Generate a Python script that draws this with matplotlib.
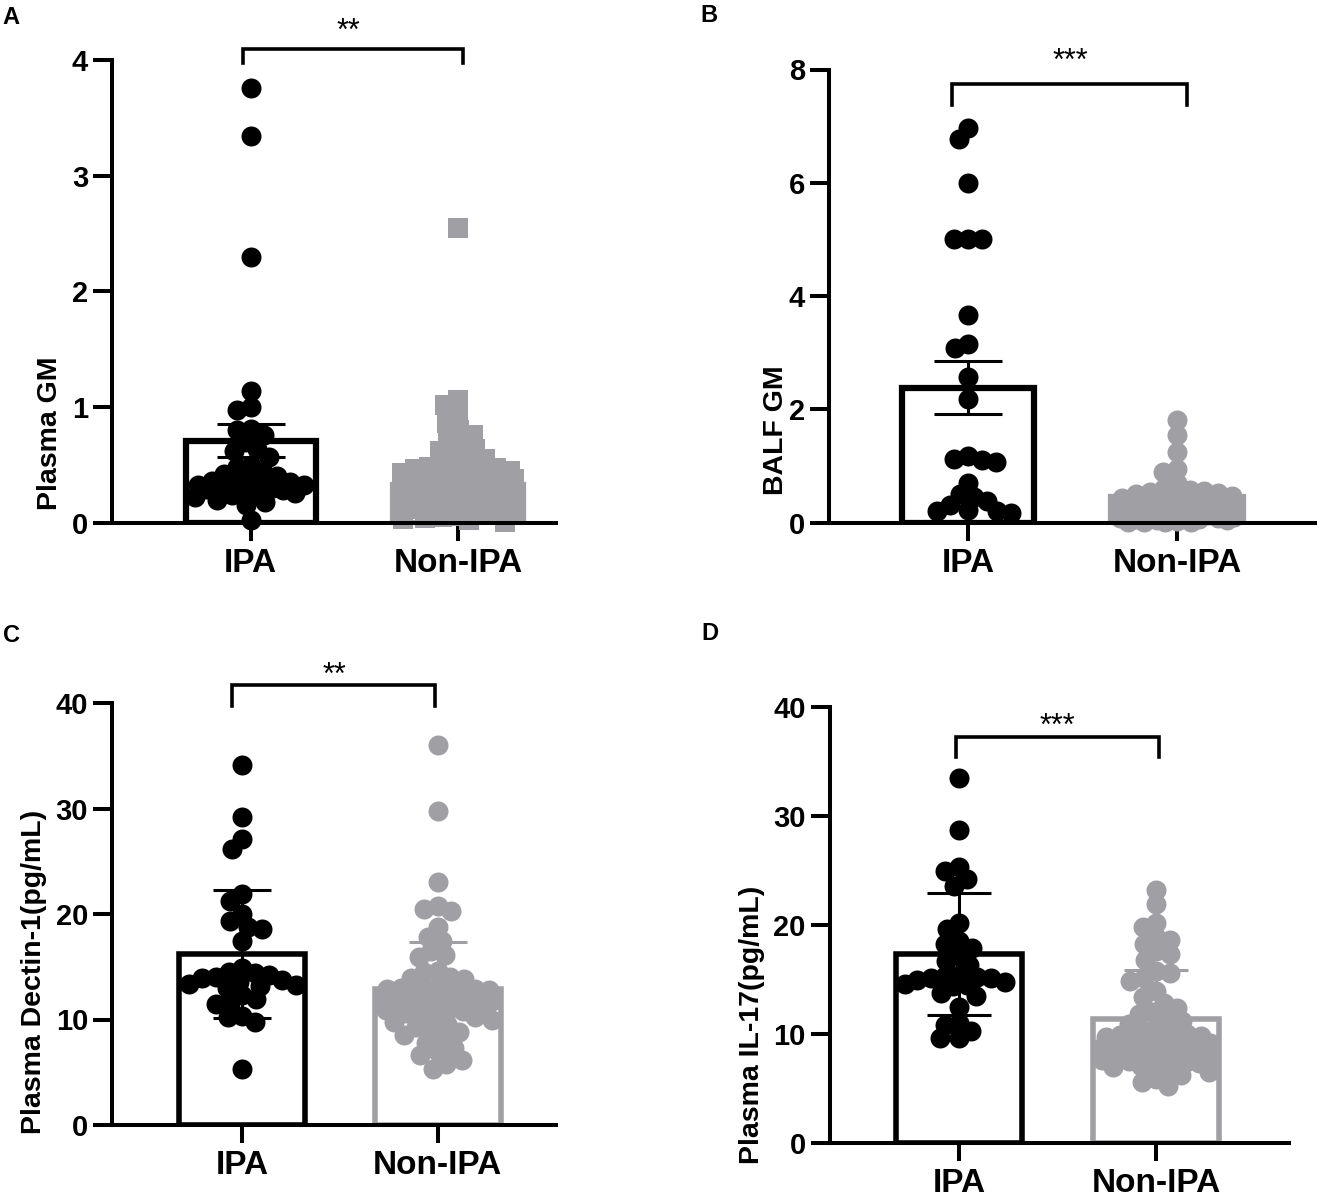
import matplotlib
matplotlib.use("Agg")
import matplotlib.pyplot as plt
import numpy as np

plt.rcParams["font.family"] = ["Liberation Sans", "DejaVu Sans"]
plt.rcParams["font.weight"] = "bold"

W, H = 1317, 1192
BLACK = "#000000"
GRAY = "#A0A0A4"
groups = ["IPA", "Non-IPA"]

# ---- data ----
a_ipa = [3.76, 3.34, 2.30, 1.14, 1.00, 0.97, 0.81, 0.80, 0.76, 0.70, 0.64, 0.62,
         0.57, 0.50, 0.48, 0.44, 0.42, 0.40, 0.38, 0.36, 0.35, 0.34, 0.33, 0.33,
         0.32, 0.31, 0.30, 0.30, 0.29, 0.28, 0.26, 0.25, 0.24, 0.22, 0.20, 0.18,
         0.15, 0.02]
a_non = [2.55, 1.06, 1.02, 0.93, 0.86, 0.80, 0.76, 0.72, 0.68, 0.64, 0.62, 0.58,
         0.55, 0.52, 0.50, 0.48, 0.47, 0.46, 0.45, 0.44, 0.44, 0.43, 0.42, 0.41,
         0.41, 0.40, 0.40, 0.39, 0.38, 0.38, 0.37, 0.36, 0.36, 0.35, 0.35, 0.34,
         0.34, 0.33, 0.33, 0.32, 0.32, 0.31, 0.31, 0.30, 0.30, 0.29, 0.29, 0.28,
         0.28, 0.27, 0.27, 0.26, 0.26, 0.25, 0.25, 0.24, 0.24, 0.23, 0.22, 0.22,
         0.21, 0.20, 0.20, 0.19, 0.18, 0.17, 0.16, 0.15, 0.14, 0.13, 0.12, 0.10,
         0.08, 0.07, 0.06, 0.05, 0.04, 0.03, 0.02, 0.01]
b_ipa = [6.97, 6.78, 6.00, 5.00, 5.00, 5.00, 3.67, 3.15, 3.08, 2.57, 2.18, 1.18,
         1.13, 1.10, 1.08, 0.70, 0.50, 0.45, 0.38, 0.32, 0.22, 0.20, 0.18, 0.20]
b_non = [1.82, 1.55, 1.25, 0.95, 0.90, 0.70, 0.62, 0.58, 0.56, 0.55, 0.52, 0.50,
         0.48, 0.45, 0.44, 0.42, 0.40, 0.40, 0.38, 0.36, 0.35, 0.33, 0.32, 0.30,
         0.30, 0.28, 0.27, 0.25, 0.24, 0.22, 0.20, 0.20, 0.18, 0.17, 0.15, 0.14,
         0.12, 0.11, 0.10, 0.09, 0.08, 0.07, 0.06, 0.05, 0.04, 0.03, 0.02, 0.02,
         0.01, 0.01]
c_ipa = [34.1, 29.2, 27.1, 26.2, 21.9, 21.2, 20.0, 19.3, 18.8, 18.6, 17.4, 14.9,
         14.5, 14.4, 14.2, 14.0, 13.9, 13.7, 13.6, 13.4, 13.3, 13.2, 13.0, 12.3,
         11.9, 11.5, 11.6, 10.3, 9.8, 10.2, 5.3]
c_non = [36.0, 29.8, 23.0, 20.8, 20.5, 20.3, 18.8, 17.8, 17.4, 16.5, 16.1,
         15.9, 14.6, 14.5, 14.0, 13.9, 13.8, 13.2, 13.1, 13.0, 12.9, 12.9, 12.8,
         12.8, 12.7, 12.6, 12.5, 12.4, 12.3, 12.2, 12.1, 12.0, 11.9, 11.8, 11.7,
         11.6, 11.5, 11.4, 11.3, 11.2, 11.1, 11.0, 10.9, 10.8, 10.6, 10.5, 10.3,
         10.2, 10.0, 9.8, 9.6, 9.3, 9.0, 8.8, 8.5, 8.2, 7.8, 7.3, 6.9, 6.6, 6.2,
         5.8, 5.3]
d_ipa = [33.5, 28.7, 25.3, 25.0, 24.2, 23.6, 20.2, 19.6, 18.5, 18.3, 17.9, 17.2,
         16.7, 16.3, 15.4, 15.3, 15.2, 15.1, 15.1, 15.0, 14.8, 14.6, 14.5, 14.4,
         13.8, 13.5, 12.5, 11.0, 10.8, 10.3, 9.6, 9.6]
d_non = [23.2, 21.9, 20.2, 19.8, 18.9, 18.6, 18.3, 17.6, 17.3, 16.8,
         15.8, 15.6, 15.1, 14.9, 13.9, 13.4, 12.8, 12.4, 12.0, 11.8,
         11.5, 11.2, 10.9, 10.6, 10.4, 10.2, 10.0, 9.9, 9.8, 9.7, 9.6, 9.5, 9.4,
         9.3, 9.2, 9.1, 9.0, 8.9, 8.8, 8.8, 8.7, 8.6, 8.5, 8.4, 8.4, 8.3, 8.2, 8.1,
         8.0, 7.9, 7.8, 7.7, 7.6, 7.5, 7.4, 7.3, 7.2, 7.1, 7.0, 6.8, 6.5, 6.2, 5.9,
         5.6, 5.2]

means_a, err_a = [0.71, 0.33], [0.145, 0.03]
means_b, err_b = [2.38, 0.46], [0.47, 0.08]
means_c, err_c = [16.2, 12.9], [6.1, 4.4]
means_d, err_d = [17.3, 11.4], [5.6, 4.45]

ylabels = ["Plasma GM", "BALF GM", "Plasma Dectin-1(pg/mL)", "Plasma IL-17(pg/mL)"]
yticks = [[0, 1, 2, 3, 4], [0, 2, 4, 6, 8], [0, 10, 20, 30, 40], [0, 10, 20, 30, 40]]
stars = ["**", "***", "**", "***"]
letters = ["A", "B", "C", "D"]

# ---- layout in pixels (from top-left) ----
panels = [
    dict(x0=112, x1=556, y0=522.7, yt=60, c0=250.7, c1=458, lw=4.5, cap=24.5, half=56,
         brk=(243, 463, 49, 63), star=(348, 32), lab=(50, 433), let=(11, 17),
         marker=["o", "s"]),
    dict(x0=829, x1=1317, y0=522.7, yt=69.5, c0=968, c1=1177, lw=4.5, cap=24.5, half=57,
         brk=(952, 1187, 83.5, 105), star=(1070, 61.5), lab=(776, 430), let=(709, 16),
         marker=["o", "o"]),
    dict(x0=112, x1=556, y0=1125, yt=703, c0=242, c1=437.5, lw=4.0, cap=21, half=54,
         brk=(232, 435, 685, 706), star=(334, 676), lab=(34, 972), let=(11, 635),
         marker=["o", "o"]),
    dict(x0=829.7, x1=1288.6, y0=1143, yt=707, c0=959, c1=1156, lw=4.0, cap=23, half=54,
         brk=(956, 1159, 736.5, 757), star=(1057, 726.5), lab=(752, 1025), let=(710, 634),
         marker=["o", "o"]),
]
values = [(a_ipa, a_non), (b_ipa, b_non), (c_ipa, c_non), (d_ipa, d_non)]
means = [means_a, means_b, means_c, means_d]
errs = [err_a, err_b, err_c, err_d]


def swarm(vals, ax, center, d_px, half_px):
    vals = np.asarray(vals, dtype=float)
    ys = ax.transData.transform(np.column_stack([np.full(len(vals), center), vals]))[:, 1]
    sx = ax.transData.transform((1, 0))[0] - ax.transData.transform((0, 0))[0]
    grid = np.arange(-half_px, half_px + 0.01, 0.5)
    grid = grid[np.argsort(np.abs(grid), kind="stable")]
    xs = np.zeros(len(vals))
    placed = []
    for i in np.argsort(-vals, kind="stable"):
        if placed:
            p = np.array(placed)
            dy = ys[i] - ys[p]
            near = np.abs(dy) < d_px
            if near.any():
                dist = np.sqrt((grid[:, None] - xs[p][near][None, :]) ** 2
                               + dy[near][None, :] ** 2).min(axis=1)
                ok = dist >= d_px
                xs[i] = grid[np.argmax(ok)] if ok.any() else grid[np.argmax(dist)]
        placed.append(i)
    return center + xs / sx


fig = plt.figure(figsize=(W / 100, H / 100), dpi=100)

for k, p in enumerate(panels):
    sep = p["c1"] - p["c0"]
    ax = fig.add_axes([p["x0"] / W, 1 - p["y0"] / H,
                       (p["x1"] - p["x0"]) / W, (p["y0"] - p["yt"]) / H])
    ax.set_xlim((p["x0"] - p["c0"]) / sep, (p["x1"] - p["c0"]) / sep)
    ax.set_ylim(0, yticks[k][-1])
    colors = [BLACK, GRAY]
    barw = 2 * (p["half"] + 9) / sep
    for g in range(2):
        ax.bar(g, means[k][g], width=barw, facecolor="white", edgecolor=colors[g],
               linewidth=p["lw"], zorder=1)
        xs = swarm(values[k][g], ax, g, 14, p["half"])
        ax.scatter(xs, values[k][g], s=14.4 ** 2, marker=p["marker"][g], c=colors[g],
                   linewidths=0, zorder=2, clip_on=False)
        ax.errorbar(g, means[k][g], yerr=errs[k][g], color=colors[g], elinewidth=2.2,
                    capthick=2.2, capsize=p["cap"], zorder=3, clip_on=False)
    for side in ["top", "right"]:
        ax.spines[side].set_visible(False)
    for side in ["left", "bottom"]:
        ax.spines[side].set_linewidth(2.9)
    ax.set_xticks([0, 1])
    ax.set_xticklabels(groups)
    ax.set_yticks(yticks[k])
    ax.tick_params(axis="y", length=13.7, width=2.9, labelsize=21, pad=3.5)
    ax.tick_params(axis="x", length=13, width=2.9, labelsize=24, pad=5)

    # significance bracket, in figure pixels
    bx0, bx1, by, bleg = p["brk"]
    fig.add_artist(plt.Line2D([bx0 / W, bx0 / W, bx1 / W, bx1 / W],
                              [1 - bleg / H, 1 - by / H, 1 - by / H, 1 - bleg / H],
                              color=BLACK, linewidth=2.6, solid_joinstyle="miter"))
    fig.text(p["star"][0] / W, 1 - p["star"][1] / H, stars[k], fontsize=22,
             fontweight="normal", ha="center", va="center")
    fig.text(p["lab"][0] / W, 1 - p["lab"][1] / H, ylabels[k], fontsize=20.5,
             rotation=90, ha="center", va="center")
    fig.text(p["let"][0] / W, 1 - p["let"][1] / H, letters[k], fontsize=17,
             ha="center", va="center")

fig.savefig("out.png", dpi=100)
